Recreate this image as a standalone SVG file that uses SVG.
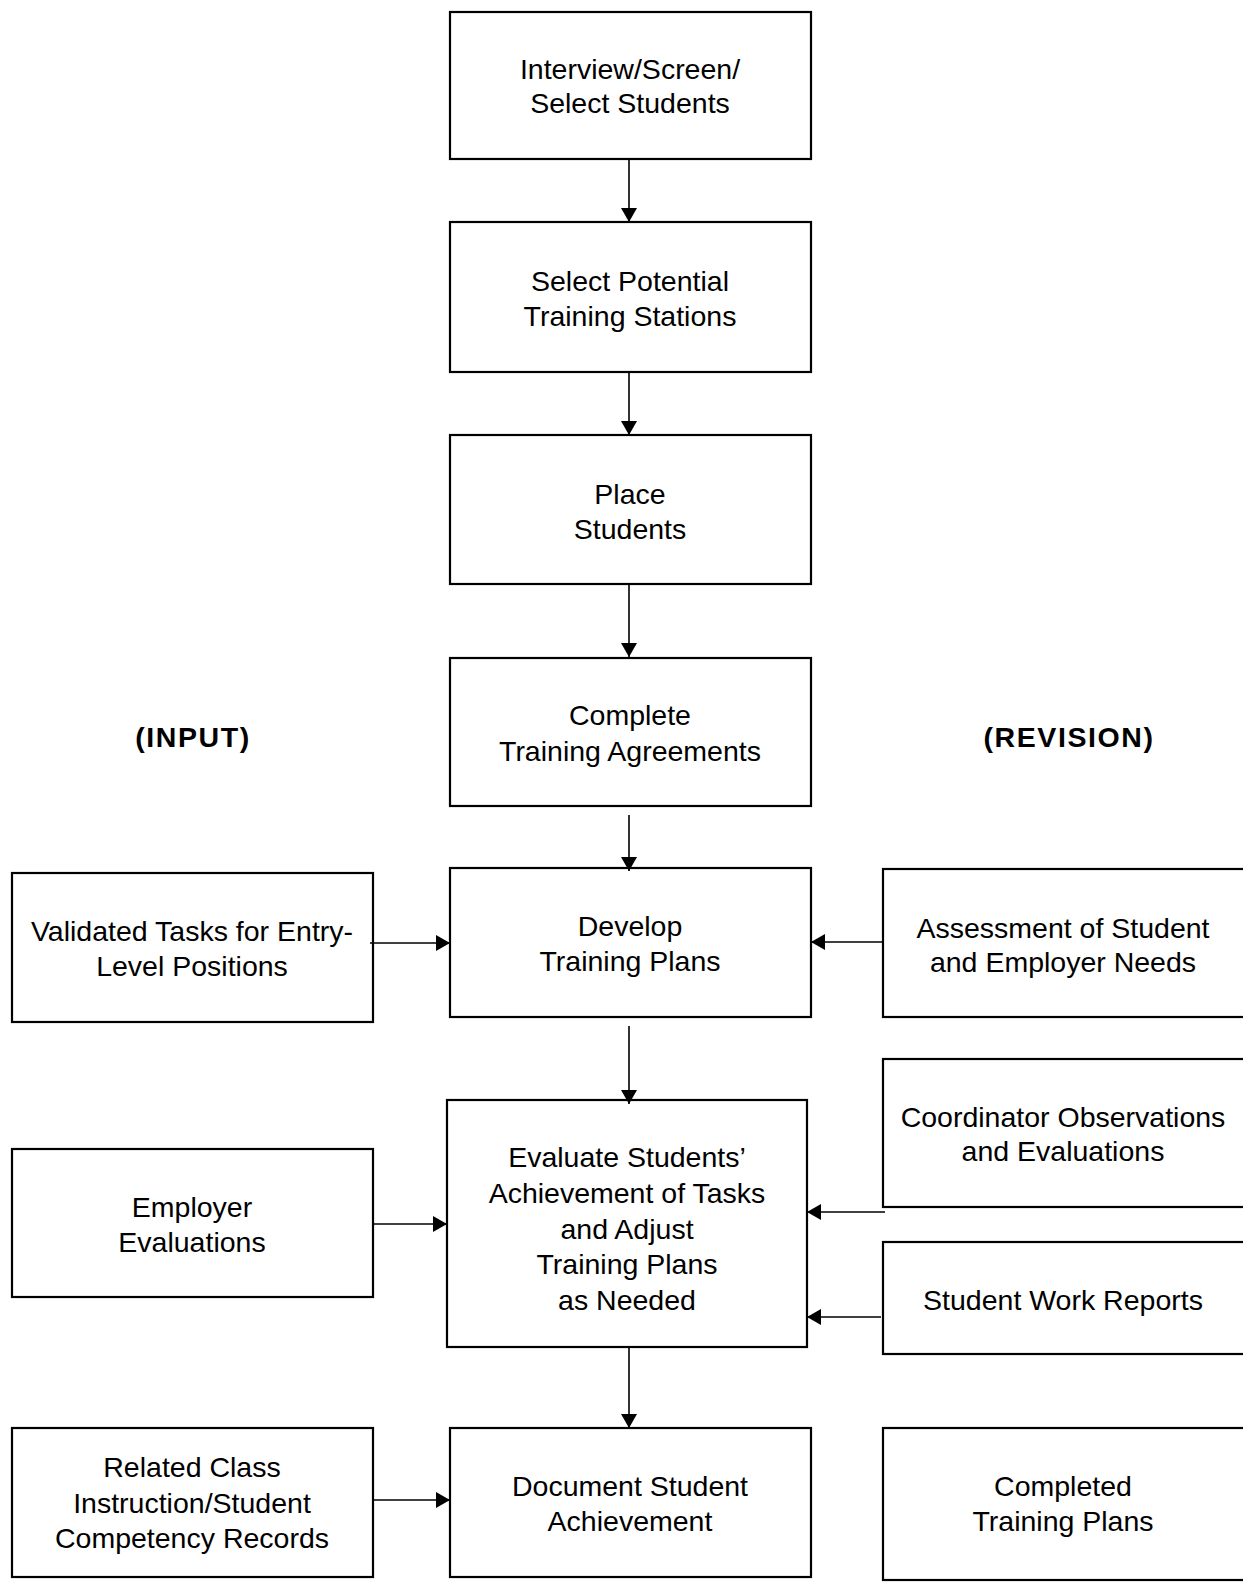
<svg xmlns="http://www.w3.org/2000/svg" width="1243" height="1585" viewBox="0 0 1243 1585">
<style>
.box{fill:#fff;stroke:#000;stroke-width:2.2}
.t{font-family:"Liberation Sans",Arial,sans-serif;font-size:28.5px;fill:#000;text-anchor:middle}
.b{font-family:"Liberation Sans",Arial,sans-serif;font-size:28.5px;font-weight:bold;letter-spacing:1.6px;fill:#000;text-anchor:middle}
.c{stroke:#000;stroke-width:1.6;fill:none;marker-end:url(#ah)}
</style>
<defs>
<marker id="ah" markerUnits="userSpaceOnUse" markerWidth="18" markerHeight="18" refX="14" refY="8" orient="auto">
<path d="M0,0 L14,8 L0,16 z" fill="#000"/>
</marker>
</defs>
<rect width="1243" height="1585" fill="#fff"/>
<g id="n1"><rect class="box" x="450" y="12" width="361" height="147"/>
<text class="t" x="630" y="79">Interview/Screen/</text><text class="t" x="630" y="113">Select Students</text></g>
<g id="n2"><rect class="box" x="450" y="222" width="361" height="150"/>
<text class="t" x="630" y="291">Select Potential</text><text class="t" x="630" y="326">Training Stations</text></g>
<g id="n3"><rect class="box" x="450" y="435" width="361" height="149"/>
<text class="t" x="630" y="504">Place</text><text class="t" x="630" y="539">Students</text></g>
<g id="n4"><rect class="box" x="450" y="658" width="361" height="148"/>
<text class="t" x="630" y="725">Complete</text><text class="t" x="630" y="761">Training Agreements</text></g>
<g id="n5"><rect class="box" x="450" y="868" width="361" height="149"/>
<text class="t" x="630" y="936">Develop</text><text class="t" x="630" y="971">Training Plans</text></g>
<g id="n6"><rect class="box" x="447" y="1100" width="360" height="247"/>
<text class="t" x="627" y="1167">Evaluate Students’</text><text class="t" x="627" y="1203">Achievement of Tasks</text><text class="t" x="627" y="1239">and Adjust</text><text class="t" x="627" y="1274">Training Plans</text><text class="t" x="627" y="1310">as Needed</text></g>
<g id="n7"><rect class="box" x="450" y="1428" width="361" height="149"/>
<text class="t" x="630" y="1496">Document Student</text><text class="t" x="630" y="1531">Achievement</text></g>
<g id="l1"><rect class="box" x="12" y="873" width="361" height="149"/>
<text class="t" x="192" y="941">Validated Tasks for Entry-</text><text class="t" x="192" y="976">Level Positions</text></g>
<g id="l2"><rect class="box" x="12" y="1149" width="361" height="148"/>
<text class="t" x="192" y="1217">Employer</text><text class="t" x="192" y="1252">Evaluations</text></g>
<g id="l3"><rect class="box" x="12" y="1428" width="361" height="149"/>
<text class="t" x="192" y="1477">Related Class</text><text class="t" x="192" y="1513">Instruction/Student</text><text class="t" x="192" y="1548">Competency Records</text></g>
<g id="r1"><rect class="box" x="883" y="869" width="380" height="148"/>
<text class="t" x="1063" y="938">Assessment of Student</text><text class="t" x="1063" y="972">and Employer Needs</text></g>
<g id="r2"><rect class="box" x="883" y="1059" width="380" height="148"/>
<text class="t" x="1063" y="1127">Coordinator Observations</text><text class="t" x="1063" y="1161">and Evaluations</text></g>
<g id="r3"><rect class="box" x="883" y="1242" width="380" height="112"/>
<text class="t" x="1063" y="1310">Student Work Reports</text></g>
<g id="r4"><rect class="box" x="883" y="1428" width="380" height="152"/>
<text class="t" x="1063" y="1496">Completed</text><text class="t" x="1063" y="1531">Training Plans</text></g>
<g id="labels">
<text class="b" x="193" y="747">(INPUT)</text>
<text class="b" x="1069" y="747">(REVISION)</text>
</g>
<g id="connectors">
<line class="c" x1="629" y1="160" x2="629" y2="222"/>
<line class="c" x1="629" y1="372" x2="629" y2="435"/>
<line class="c" x1="629" y1="584" x2="629" y2="657"/>
<line class="c" x1="629" y1="815" x2="629" y2="871"/>
<line class="c" x1="629" y1="1026" x2="629" y2="1104"/>
<line class="c" x1="629" y1="1347" x2="629" y2="1428"/>
<line class="c" x1="370" y1="943" x2="450" y2="943"/>
<line class="c" x1="883" y1="942" x2="811" y2="942"/>
<line class="c" x1="373" y1="1224" x2="447" y2="1224"/>
<line class="c" x1="885" y1="1212" x2="807" y2="1212"/>
<line class="c" x1="881" y1="1317" x2="807" y2="1317"/>
<line class="c" x1="373" y1="1500" x2="450" y2="1500"/>
</g>
</svg>
